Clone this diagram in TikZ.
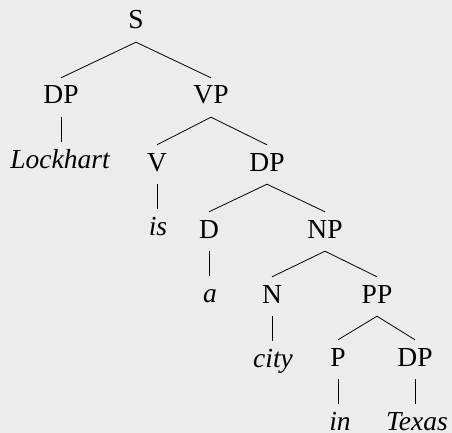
\documentclass[tikz,border=0pt]{standalone}
\usepackage{fontspec}
\setmainfont{Liberation Serif}
\definecolor{bg}{HTML}{ECECEC}
\begin{document}
\begin{tikzpicture}[x=1pt,y=-1pt,
  lab/.style={inner sep=0pt,anchor=base,text height=26pt,text depth=13pt,font=\fontsize{27.5}{32}\selectfont},
  leaf/.style={lab,font=\fontsize{27.5}{32}\selectfont\itshape},
  br/.style={line width=0.8pt,black}]
\fill[bg] (0,0) rectangle (452,433);
\useasboundingbox (0,0) rectangle (452,433);
\node[lab] (S) at (136,29) {S};
\node[lab] (DPa) at (61,104) {DP};
\node[lab] (VP) at (211,104) {VP};
\node[leaf] (Lockhart) at (60,168) {Lockhart};
\node[lab] (V) at (157,171) {V};
\node[lab] (DPb) at (267,171) {DP};
\node[leaf] (is) at (158,235) {is};
\node[lab] (D) at (209,238) {D};
\node[lab] (NP) at (325,238) {NP};
\node[leaf] (a) at (210,302) {a};
\node[lab] (N) at (272,303) {N};
\node[lab] (PP) at (377,303) {PP};
\node[leaf] (city) at (273,367) {city};
\node[lab] (P) at (338,366) {P};
\node[lab] (DPc) at (415,366) {DP};
\node[leaf] (in) at (340,430) {in};
\node[leaf] (Texas) at (417,430) {Texas};
\draw[br] (DPa.north) -- (S.south) -- (VP.north);
\draw[br] (DPa.south) -- (DPa.south |- Lockhart.north);
\draw[br] (V.north) -- (VP.south) -- (DPb.north);
\draw[br] (V.south) -- (V.south |- is.north);
\draw[br] (D.north) -- (DPb.south) -- (NP.north);
\draw[br] (D.south) -- (D.south |- a.north);
\draw[br] (N.north) -- (NP.south) -- (PP.north);
\draw[br] (N.south) -- (N.south |- city.north);
\draw[br] (P.north) -- (PP.south) -- (DPc.north);
\draw[br] (P.south) -- (P.south |- in.north);
\draw[br] (DPc.south) -- (DPc.south |- Texas.north);
\end{tikzpicture}
\end{document}
